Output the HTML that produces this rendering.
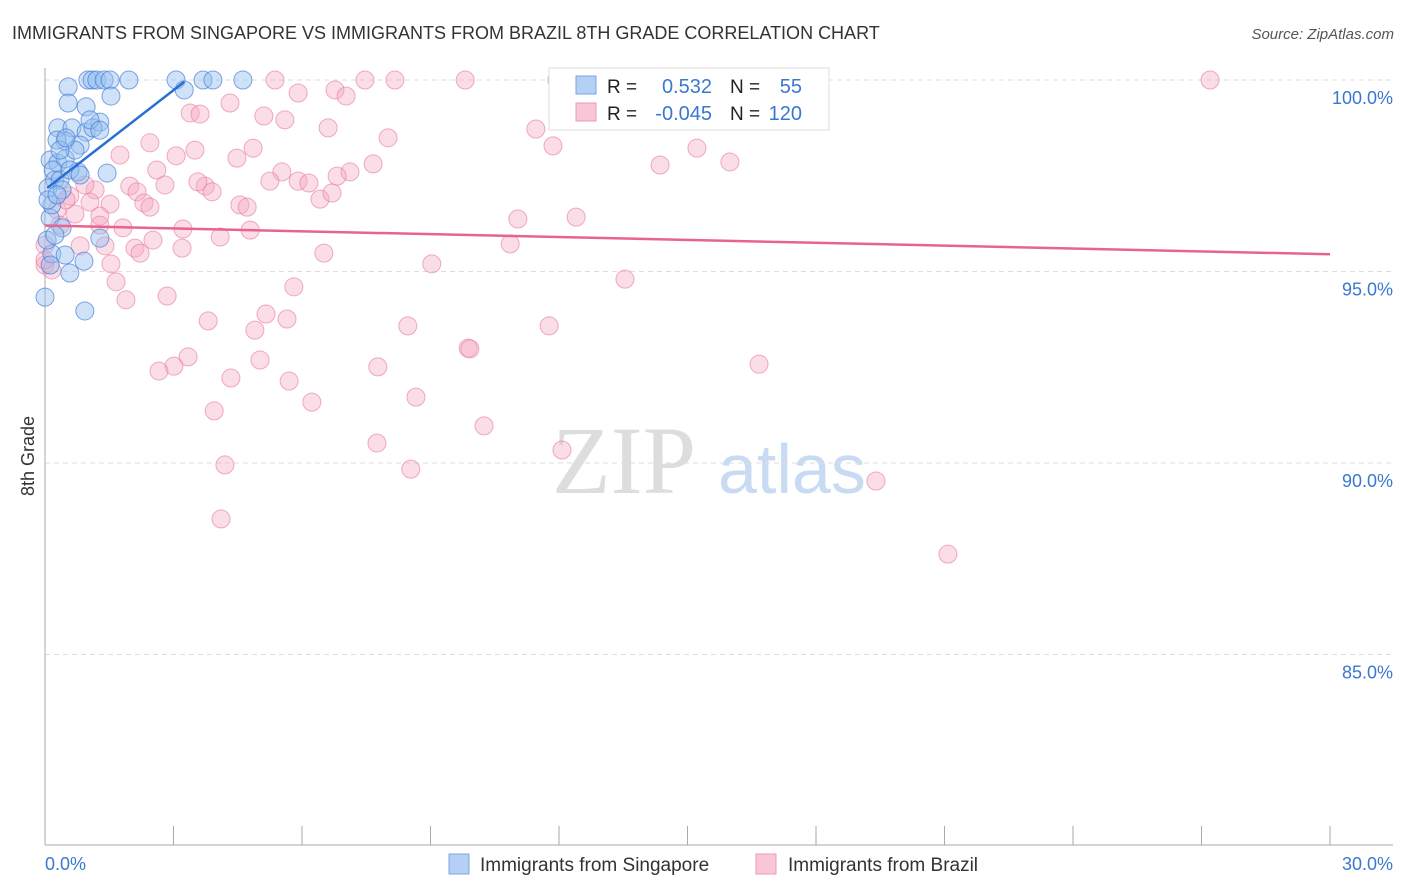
<!DOCTYPE html>
<html><head><meta charset="utf-8"><style>
html,body{margin:0;padding:0;background:#fff;width:1406px;height:892px;overflow:hidden;font-family:"Liberation Sans",sans-serif}
</style></head><body>
<svg id="chart" width="1406" height="892" xmlns="http://www.w3.org/2000/svg">
<text x="12" y="39" font-size="18" fill="#333">IMMIGRANTS FROM SINGAPORE VS IMMIGRANTS FROM BRAZIL 8TH GRADE CORRELATION CHART</text>
<text x="1394" y="39" font-size="15" fill="#555" text-anchor="end" font-style="italic">Source: ZipAtlas.com</text>
<g><text x="552" y="493" font-size="96" fill="#ddd" font-family="Liberation Serif,serif">ZIP</text><text x="718" y="493" font-size="70" fill="#c9dbf2">atlas</text></g>
<g id="grid"></g><g id="axes"></g><g id="pts"></g><g id="trends"></g>
<text transform="translate(34,456) rotate(-90)" font-size="18" fill="#333" text-anchor="middle">8th Grade</text>
<g>
<rect x="549" y="68" width="280" height="62" fill="#fff" stroke="#ddd"/>
<rect x="576" y="76" width="20" height="18" fill="#b5d0f5" stroke="#7aa5e0"/>
<rect x="576" y="103" width="20" height="18" fill="#f9c6d5" stroke="#ec9ab3"/>
<text x="607" y="93" font-size="19" fill="#222">R =</text>
<text x="712" y="93" font-size="20" fill="#3a78d0" text-anchor="end">0.532</text>
<text x="730" y="93" font-size="19" fill="#222">N =</text>
<text x="802" y="93" font-size="20" fill="#3a78d0" text-anchor="end">55</text>
<text x="607" y="120" font-size="19" fill="#222">R =</text>
<text x="712" y="120" font-size="20" fill="#3a78d0" text-anchor="end">-0.045</text>
<text x="730" y="120" font-size="19" fill="#222">N =</text>
<text x="802" y="120" font-size="20" fill="#3a78d0" text-anchor="end">120</text>
</g>
<g>
<rect x="449" y="854" width="20" height="20" fill="#b5d0f5" stroke="#7aa5e0"/>
<text x="480" y="871" font-size="19" fill="#333">Immigrants from Singapore</text>
<rect x="756" y="854" width="20" height="20" fill="#f9c6d5" stroke="#ec9ab3"/>
<text x="788" y="871" font-size="19" fill="#333">Immigrants from Brazil</text>
</g>
</svg>
<script>
const blueX=[0.54,1.00,1.10,1.21,1.38,1.52,1.96,3.06,3.25,3.69,3.92,4.62,1.54,0.54,0.96,0.30,0.63,0.96,1.28,0.47,0.28,0.82,0.12,0.30,0.47,0.19,1.45,0.23,0.35,0.77,0.07,0.12,0.16,0.40,1.28,0.16,0.47,0.91,0.58,0,0.93,1.12,0.70,0.40,0.05,0.23,0.12,0.35,0.58,1.05,1.28,0.07,0.82,0.28,0.49];
const blueY=[99.82,100,100,100,100,100,100,100,99.74,100,100,100,99.58,99.40,99.30,98.75,98.75,98.64,98.90,98.41,98.43,98.30,97.91,97.83,97.94,97.65,97.57,97.39,97.39,97.60,97.18,96.40,96.74,96.14,95.87,95.46,95.43,95.27,94.96,94.33,93.97,98.75,98.17,97.13,95.82,95.95,95.17,98.17,97.65,98.96,98.69,96.87,97.52,97.00,98.49];
const pinkX=[5.37,7.47,8.17,9.81,13.89,27.20,11.95,5.91,6.77,7.03,4.32,5.11,3.39,3.62,5.60,6.61,8.01,11.46,11.86,2.45,1.75,3.50,3.06,4.48,4.86,15.22,15.99,14.36,7.66,7.12,6.82,2.61,5.53,5.25,5.91,6.16,2.80,1.98,2.15,2.31,3.74,3.90,3.57,1.17,0.58,0.93,6.42,6.70,4.55,4.72,2.45,1.52,1.05,0.70,0.28,1.28,11.04,12.40,4.79,3.22,1.82,2.52,4.09,3.20,0.82,1.40,2.10,0,6.51,10.86,2.22,1.54,9.03,0,0.16,1.66,5.81,13.54,2.85,1.89,5.16,5.65,3.81,8.47,11.77,4.90,9.88,9.92,3.34,3.01,16.67,5.02,7.77,2.66,4.34,5.70,8.66,6.23,3.95,10.25,7.75,12.07,4.20,8.54,19.40,4.11,21.08,0,0.35,0.49,1.28];
const pinkY=[100,100,100,100,100,100,100,99.66,99.74,99.58,99.40,99.06,99.14,99.11,98.96,98.75,98.49,98.72,98.28,98.36,98.04,98.17,98.02,97.96,98.22,98.22,97.86,97.78,97.81,97.60,97.49,97.65,97.60,97.36,97.36,97.31,97.26,97.23,97.08,96.79,97.23,97.08,97.34,97.13,96.97,97.26,96.89,97.05,96.74,96.68,96.68,96.76,96.81,96.50,96.61,96.45,96.37,96.42,96.08,96.11,96.14,95.82,95.90,95.61,95.67,95.67,95.61,95.69,95.48,95.72,95.48,95.20,95.20,95.17,95.04,94.73,94.60,94.80,94.36,94.26,93.89,93.76,93.71,93.58,93.58,93.47,93.00,92.98,92.77,92.53,92.58,92.69,92.51,92.40,92.22,92.14,91.72,91.59,91.36,90.97,90.52,90.34,89.95,89.84,89.53,88.54,87.62,95.30,96.21,96.87,96.21];
const blueTrendX=[0.05,3.25];
const blueTrendY=[97.18,99.95];
const pinkTrendX=[0,30];
const pinkTrendY=[96.2,95.45];
const yTicks=[100,95,90,85];
const yTickLabels=["100.0%","95.0%","90.0%","85.0%"];
const xTicks=[0,3,6,9,12,15,18,21,24,27,30];
const NS="http://www.w3.org/2000/svg";
function sx(v){return 45+v*(1285/30);}
function sy(v){return 80+(100-v)*38.3;}
function mk(tag,attrs,parent){const e=document.createElementNS(NS,tag);for(const k in attrs)e.setAttribute(k,attrs[k]);document.getElementById(parent).appendChild(e);return e;}
yTicks.forEach((t,i)=>{
  const l=mk('line',{x1:45,x2:1393,y1:sy(t),y2:sy(t),stroke:'#ddd','stroke-dasharray':'5,4'},'grid');
  
  
  const tx=mk('text',{x:1393,y:sy(t)+24,'font-size':18,fill:'#3a78d0','text-anchor':'end'},'grid');
  tx.textContent=yTickLabels[i];
  
  
});
let a=mk('line',{x1:45,x2:45,y1:68,y2:845,stroke:'#aaa'},'axes');


a=mk('line',{x1:45,x2:1393,y1:845,y2:845,stroke:'#aaa'},'axes');


xTicks.forEach(t=>{
  const l=mk('line',{x1:sx(t),x2:sx(t),y1:826,y2:845,stroke:'#aaa'},'axes');
  
  
});
let t0=mk('text',{x:45,y:870,'font-size':18,fill:'#3a78d0'},'axes');t0.textContent=xTicks[0].toFixed(1)+'%';


let t1=mk('text',{x:1393,y:870,'font-size':18,fill:'#3a78d0','text-anchor':'end'},'axes');t1.textContent=xTicks[xTicks.length-1].toFixed(1)+'%';


pinkX.forEach((x,i)=>{
  const c=mk('circle',{cx:sx(x),cy:sy(pinkY[i]),r:9,fill:'rgba(246,170,195,0.4)',stroke:'rgba(230,120,155,0.6)','stroke-width':1},'pts');
  
  
});
blueX.forEach((x,i)=>{
  const c=mk('circle',{cx:sx(x),cy:sy(blueY[i]),r:9,fill:'rgba(150,190,240,0.45)',stroke:'rgba(60,120,210,0.65)','stroke-width':1},'pts');
  
  
});
let b=mk('line',{x1:sx(blueTrendX[0]),y1:sy(blueTrendY[0]),x2:sx(blueTrendX[1]),y2:sy(blueTrendY[1]),stroke:'#2a6fd6','stroke-width':2.5},'trends');


let p=mk('line',{x1:sx(pinkTrendX[0]),y1:sy(pinkTrendY[0]),x2:sx(pinkTrendX[1]),y2:sy(pinkTrendY[1]),stroke:'#e8648f','stroke-width':2.5},'trends');


</script>
</body></html>
